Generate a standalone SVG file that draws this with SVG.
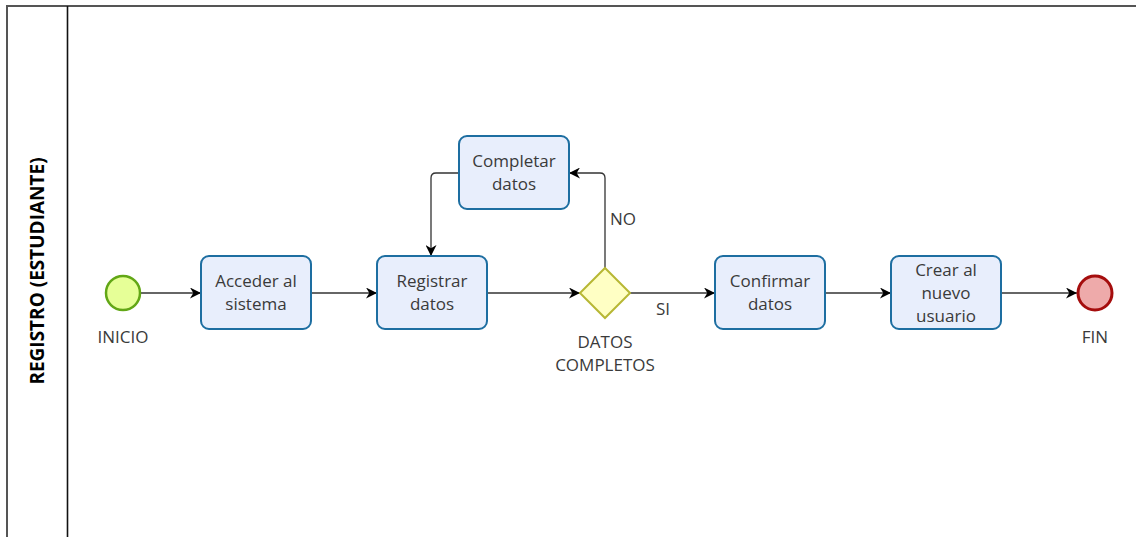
<svg xmlns="http://www.w3.org/2000/svg" width="1136" height="537" viewBox="0 0 1136 537">
  <defs>
    <marker id="arrow" viewBox="0 0 10 10" refX="10" refY="5" markerWidth="11" markerHeight="11" markerUnits="userSpaceOnUse" orient="auto">
      <path d="M0,0 L10,5 L0,10 L3,5 Z" fill="#000"/>
    </marker>
  </defs>
  <style>
    text { font-family: "Open Sans", "Noto Sans", sans-serif; font-size: 17px; fill: #3a3a3a; }
    .task { fill: #e8eefc; stroke: #1d6ea1; stroke-width: 2; }
    .flow { fill: none; stroke: #333; stroke-width: 1.3; marker-end: url(#arrow); }
    .lane { fill: none; stroke: #555; stroke-width: 2; }
    .title { font-weight: bold; font-size: 19px; fill: #000; }
  </style>
  <rect width="1136" height="537" fill="#fff"/>

  <!-- pool and lane -->
  <g id="pool">
    <path class="lane" d="M7,537 L7,6 L1136,6"/>
    <line x1="67.5" y1="6" x2="67.5" y2="537" stroke="#111" stroke-width="1.6"/>
    <text class="title" transform="translate(44,271) rotate(-90)" text-anchor="middle">REGISTRO (ESTUDIANTE)</text>
  </g>

  <!-- sequence flows -->
  <g id="connectors">
    <line class="flow" x1="141" y1="293" x2="201" y2="293"/>
    <line class="flow" x1="311" y1="293" x2="377" y2="293"/>
    <line class="flow" x1="487" y1="293" x2="580" y2="293"/>
    <path class="flow" d="M605,268 L605,178 Q605,173 600,173 L569,173"/>
    <path class="flow" d="M459,173 L436,173 Q431,173 431,178 L431,256"/>
    <line class="flow" x1="630" y1="293" x2="715" y2="293"/>
    <line class="flow" x1="825" y1="293" x2="891" y2="293"/>
    <line class="flow" x1="1001" y1="293" x2="1077" y2="293"/>
    <text x="623" y="225" text-anchor="middle">NO</text>
    <text x="663" y="315" text-anchor="middle">SI</text>
  </g>

  <g id="inicio">
    <circle cx="123" cy="293" r="17" fill="#e6ff97" stroke="#62a716" stroke-width="2.5"/>
    <text x="123" y="343" text-anchor="middle">INICIO</text>
  </g>

  <g id="acceder">
    <rect class="task" x="201" y="256" width="110" height="73" rx="8"/>
    <text x="256" y="287" text-anchor="middle">Acceder al</text>
    <text x="256" y="310" text-anchor="middle">sistema</text>
  </g>

  <g id="registrar">
    <rect class="task" x="377" y="256" width="110" height="73" rx="8"/>
    <text x="432" y="287" text-anchor="middle">Registrar</text>
    <text x="432" y="310" text-anchor="middle">datos</text>
  </g>

  <g id="completar">
    <rect class="task" x="459" y="136" width="110" height="73" rx="8"/>
    <text x="514" y="167" text-anchor="middle">Completar</text>
    <text x="514" y="190" text-anchor="middle">datos</text>
  </g>

  <g id="decision">
    <polygon points="605,268 630,293 605,318 580,293" fill="#ffffc4" stroke="#b7b734" stroke-width="2"/>
    <text x="605" y="348" text-anchor="middle">DATOS</text>
    <text x="605" y="371" text-anchor="middle">COMPLETOS</text>
  </g>

  <g id="confirmar">
    <rect class="task" x="715" y="256" width="110" height="73" rx="8"/>
    <text x="770" y="287" text-anchor="middle">Confirmar</text>
    <text x="770" y="310" text-anchor="middle">datos</text>
  </g>

  <g id="crear">
    <rect class="task" x="891" y="256" width="110" height="73" rx="8"/>
    <text x="946" y="276" text-anchor="middle">Crear al</text>
    <text x="946" y="299" text-anchor="middle">nuevo</text>
    <text x="946" y="322" text-anchor="middle">usuario</text>
  </g>

  <g id="fin">
    <circle cx="1095" cy="293" r="17" fill="#eeaaaa" stroke="#a50d0d" stroke-width="3"/>
    <text x="1095" y="343" text-anchor="middle">FIN</text>
  </g>
</svg>
